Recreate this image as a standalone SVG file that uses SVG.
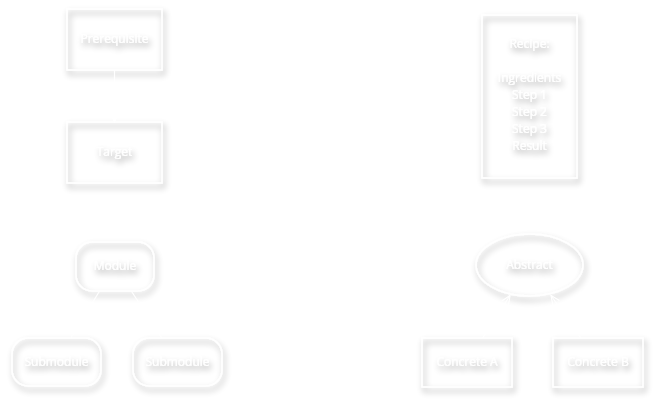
<svg xmlns="http://www.w3.org/2000/svg" width="654" height="402" viewBox="0 0 654 402">
<style>
.n{fill:none;stroke:#ffffff;stroke-width:1.5}
.t{fill:#ffffff;font-family:"Open Sans","Liberation Sans",sans-serif;font-size:12px;text-anchor:middle}
.c{stroke:#ffffff;stroke-width:1.2;fill:none}
</style>
<defs>
<filter id="sh" x="-30%" y="-30%" width="160%" height="170%">
<feGaussianBlur in="SourceAlpha" stdDeviation="3"/>
<feOffset dx="1.5" dy="4" result="b"/>
<feComponentTransfer><feFuncA type="linear" slope="0.4"/></feComponentTransfer>
<feMerge><feMergeNode/><feMergeNode in="SourceGraphic"/></feMerge>
</filter>
<marker id="arr" markerWidth="10" markerHeight="10" refX="9" refY="5" orient="auto" markerUnits="userSpaceOnUse">
<path d="M0,1 L9,5 L0,9" fill="none" stroke="#ffffff" stroke-width="1.2"/>
</marker>
</defs>
<rect width="654" height="402" fill="#ffffff"/>
<g id="prerequisite" filter="url(#sh)">
<rect class="n" x="67" y="9" width="95" height="61"/>
<text class="t" x="114.5" y="43">Prerequisite</text>
</g>
<g id="target" filter="url(#sh)">
<rect class="n" x="67" y="122" width="95" height="61"/>
<text class="t" x="114.5" y="156">Target</text>
</g>
<g id="recipe" filter="url(#sh)">
<rect class="n" x="482" y="15" width="95" height="163"/>
<text class="t" x="529.5" y="48">Recipe:</text>
<text class="t" x="529.5" y="82">Ingredients</text>
<text class="t" x="529.5" y="99">Step 1</text>
<text class="t" x="529.5" y="116">Step 2</text>
<text class="t" x="529.5" y="133">Step 3</text>
<text class="t" x="529.5" y="150">Result</text>
</g>
<g id="module" filter="url(#sh)">
<rect class="n" x="76" y="242" width="78" height="49" rx="16" ry="16"/>
<text class="t" x="115" y="270">Module</text>
</g>
<g id="submodule1" filter="url(#sh)">
<rect class="n" x="12" y="338" width="89" height="48" rx="16" ry="16"/>
<text class="t" x="56.5" y="366">Submodule</text>
</g>
<g id="submodule2" filter="url(#sh)">
<rect class="n" x="133" y="338" width="89" height="48" rx="16" ry="16"/>
<text class="t" x="177.5" y="366">Submodule</text>
</g>
<g id="abstract" filter="url(#sh)">
<ellipse class="n" cx="529.5" cy="265" rx="53.5" ry="31"/>
<text class="t" x="529.5" y="269">Abstract</text>
</g>
<g id="concreteA" filter="url(#sh)">
<rect class="n" x="422" y="338" width="90" height="49"/>
<text class="t" x="467" y="366">Concrete A</text>
</g>
<g id="concreteB" filter="url(#sh)">
<rect class="n" x="553" y="338" width="90" height="49"/>
<text class="t" x="598" y="366">Concrete B</text>
</g>
<g id="connectors">
<line class="c" x1="114.5" y1="70" x2="114.5" y2="122" marker-end="url(#arr)"/>
<line class="c" x1="99.6" y1="291" x2="70.8" y2="338"/>
<line class="c" x1="131.3" y1="291" x2="161.9" y2="338"/>
<line class="c" x1="482.7" y1="338" x2="510" y2="295.5" marker-end="url(#arr)"/>
<line class="c" x1="580.8" y1="338" x2="551" y2="295.5" marker-end="url(#arr)"/>
</g>
</svg>
